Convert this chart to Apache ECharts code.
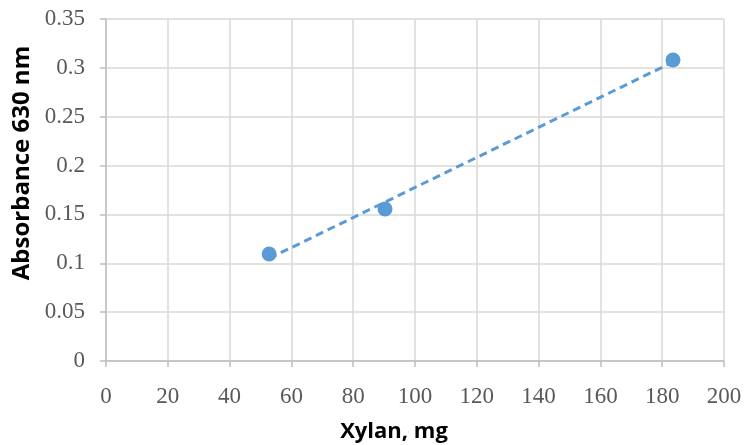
<!DOCTYPE html>
<html>
<head>
<meta charset="utf-8">
<script src="https://cdn.jsdelivr.net/npm/echarts@6/dist/echarts.min.js"></script>
<style>
  html, body { margin: 0; padding: 0; background: #fff; }
  #chart { width: 744px; height: 445px; }
</style>
</head>
<body>
<div id="chart"></div>
<script>
// measured points (xylan mg, absorbance)
const xylanMg = [52.8, 90.3, 183.5]
const absorbance = [0.1095, 0.1556, 0.308]
// dashed trendline ends
const trendX = [52.8, 183.5]
const trendY = [0.105, 0.306]

const blue = '#5b9bd5'
const tickFont = { fontFamily: 'Liberation Serif', fontSize: 23, color: '#595959' }
const nameFont = { fontFamily: 'Open Sans', fontWeight: 'bold', color: '#000' }

const chart = echarts.init(document.getElementById('chart'))

chart.setOption({
  animation: false,
  grid: { left: 106, right: 20, top: 19, bottom: 84, outerBoundsMode: 'none', containLabel: false },
  xAxis: {
    type: 'value',
    min: 0, max: 200, interval: 20,
    name: 'Xylan, mg',
    nameLocation: 'middle',
    nameGap: 60,
    nameTextStyle: { ...nameFont, fontSize: 22, padding: [0, 42, 0, 0] },
    axisLine: { show: true, lineStyle: { color: '#bfbfbf', width: 1.5 } },
    axisTick: { show: true, length: 6, lineStyle: { color: '#bfbfbf', width: 1.5 } },
    axisLabel: { ...tickFont, margin: 24 },
    splitLine: { lineStyle: { color: '#d9d9d9', width: 1.5 } }
  },
  yAxis: {
    type: 'value',
    min: 0, max: 0.35, interval: 0.05,
    name: 'Absorbance 630 nm',
    nameLocation: 'middle',
    nameGap: 69,
    nameTextStyle: { ...nameFont, fontSize: 24, padding: [0, 0, 0, 54] },
    axisLine: { show: true, lineStyle: { color: '#bfbfbf', width: 1.5 } },
    axisTick: { show: true, length: 6, lineStyle: { color: '#bfbfbf', width: 1.5 } },
    axisLabel: { ...tickFont, margin: 21 },
    splitLine: { lineStyle: { color: '#d9d9d9', width: 1.5 } }
  },
  series: [
    {
      type: 'line',
      data: trendX.map((x, i) => [x, trendY[i]]),
      showSymbol: false,
      lineStyle: { color: blue, width: 3, type: [8, 5] },
      z: 2
    },
    {
      type: 'scatter',
      data: xylanMg.map((x, i) => [x, absorbance[i]]),
      symbol: 'circle',
      symbolSize: 15,
      itemStyle: { color: blue, opacity: 1 },
      z: 3
    }
  ]
})
</script>
</body>
</html>
